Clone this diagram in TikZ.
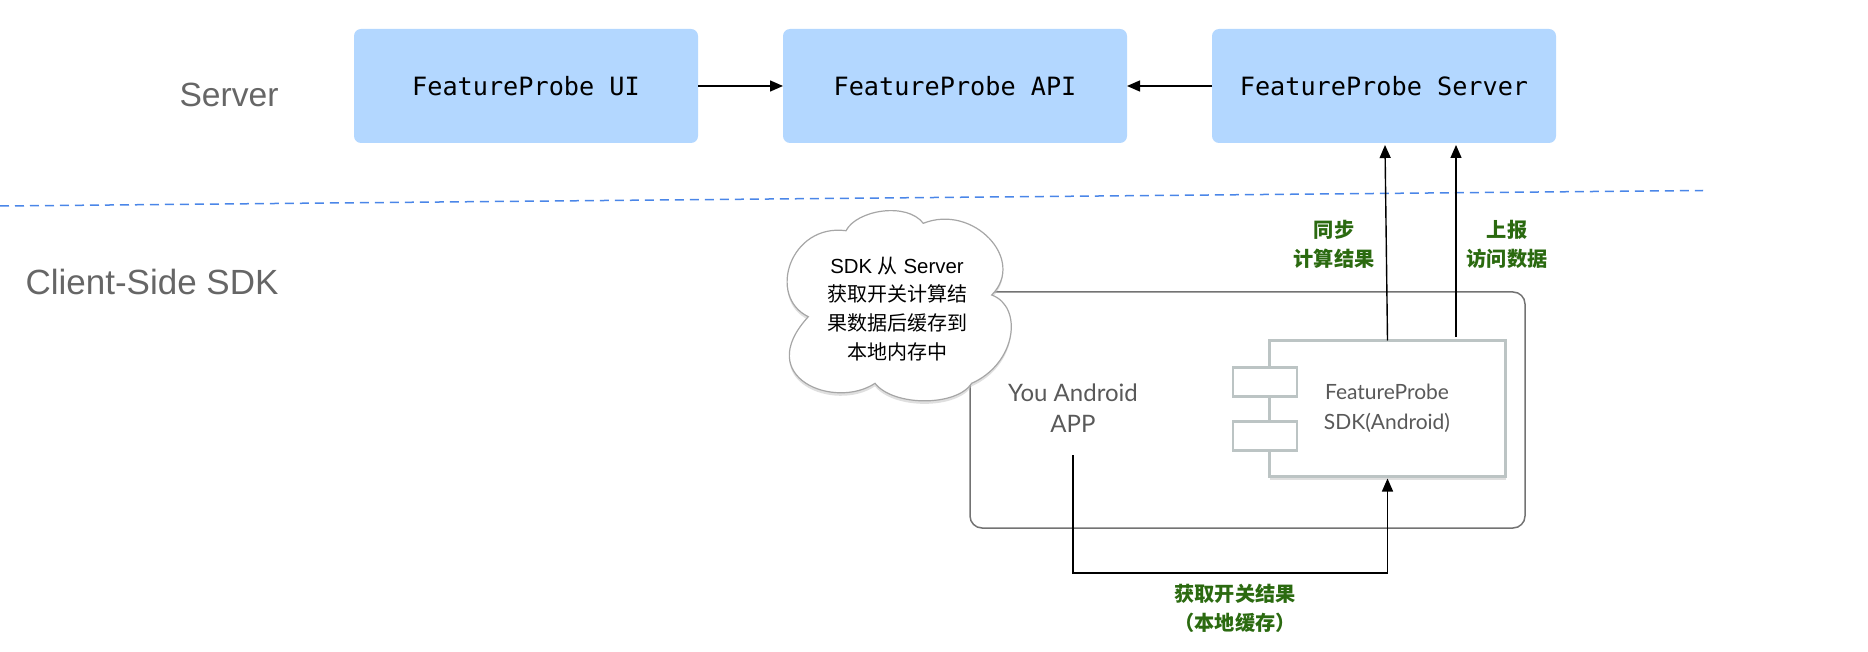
\documentclass[tikz,border=0pt]{standalone}
\usepackage{fontspec}
\setmainfont{Liberation Sans}
\newfontfamily\cjk{Noto Sans CJK SC}
\newfontfamily\menlo{DejaVu Sans Mono}
\newfontfamily\avenir{Lato}
\usetikzlibrary{arrows.meta, positioning, shadows}
\definecolor{boxblue}{HTML}{B3D7FF}
\definecolor{notegreen}{HTML}{2B6A10}
\definecolor{sdkgrey}{HTML}{BCC4C4}
\definecolor{linkblue}{HTML}{4A86E8}

\begin{document}
\begin{tikzpicture}[x=0.5pt, y=-0.5pt,
  svcbox/.style={rectangle, rounded corners=3.5pt, fill=boxblue, minimum width=172pt, minimum height=57pt, inner sep=0pt, outer sep=0pt, font=\menlo\fontsize{12.6}{15}\selectfont},
  sidetext/.style={text=black!60, font=\fontsize{16.8}{20}\selectfont},
  appbox/.style={rectangle, rounded corners=6pt, draw=black!55, line width=0.75pt, minimum width=277.5pt, minimum height=118pt},
  sdkbox/.style={rectangle, draw=sdkgrey, fill=white, line width=1.3pt, minimum width=118pt, minimum height=68pt, outer sep=0pt, drop shadow={shadow xshift=0pt, shadow yshift=-1.6pt, fill=black!25, opacity=0.5}},
  portbox/.style={rectangle, draw=sdkgrey, fill=white, line width=1.3pt, minimum width=32pt, minimum height=14.5pt, outer sep=0pt},
  greytext/.style={text=black!65, align=center, font=\avenir\fontsize{12}{15.6}\selectfont},
  greentext/.style={text=notegreen, align=center, font=\cjk\bfseries\fontsize{10.1}{14.5}\selectfont},
  arrowline/.style={-{Triangle[length=6.5pt, width=5.5pt]}, line width=0.7pt, black}]
\useasboundingbox (0,0) rectangle (1868,652);

\node (ui) [svcbox] at (526,86) {FeatureProbe UI};
\node (api) [svcbox, right=42.5pt of ui] {FeatureProbe API};
\node (server) [svcbox, right=42.5pt of api] {FeatureProbe Server};
\draw [arrowline] (ui) -- (api);
\draw [arrowline] (server) -- (api);

\node (serverlabel) [sidetext] at (229,95) {Server};
\node (clientlabel) [sidetext, font=\fontsize{17.5}{20}\selectfont] at (152,282) {Client-Side SDK};
\draw [linkblue, line width=0.75pt, dash pattern=on 4.5pt off 3pt] (0,206) coordinate (lineleft) -- (1703,190.5) coordinate (lineright);

\node (frame) [appbox] at (1247.5,410) {};
\node (sdk) [sdkbox] at (1387.5,408.5) {};
\node (port1) [portbox] at (1265,382) {};
\node (port2) [portbox] at (1265,436) {};
\node (sdktext) [greytext, font=\avenir\fontsize{10.5}{15}\selectfont] at (1387,408) {FeatureProbe\\SDK(Android)};
\node (app) [greytext, inner sep=0pt] at (1073,408) {You Android\\APP};

\coordinate (syncend) at (1385,145);
\coordinate (reportstart) at (1456,337);
\draw [arrowline] (sdk.north) -- (syncend);
\draw [arrowline] (reportstart) -- (reportstart |- syncend);
\node (synctext) [greentext] at (1334,244) {同步\\计算结果};
\node (reporttext) [greentext] at (1507,244) {上报\\访问数据};

\coordinate (appout) at (1073,455);
\coordinate (corner) at (1073,573);
\draw [arrowline, shorten >=1pt] (appout) -- (corner) -| (sdk.south);
\node (fetchtext) [greentext] at (1235,608.5) {获取开关结果\\（本地缓存）};

\draw [draw=black!35, fill=white, line width=0.6pt, drop shadow={shadow xshift=0pt, shadow yshift=-1.5pt, fill=black!25, opacity=0.5}]
  (846,230.7) .. controls (856.7,210) and (906.7,201.7) .. (923.3,223.3)
  .. controls (973.3,203.3) and (1026.7,260) .. (991.7,295)
  .. controls (1023.3,306.7) and (1016.7,363.3) .. (971.7,383.3)
  .. controls (956.7,406.7) and (893.3,406.7) .. (875,383.3)
  .. controls (835,410) and (752,378) .. (808.3,316.7)
  .. controls (766.7,296.7) and (790,223.3) .. (846,230.7) -- cycle;
\node (cloudnote) [align=center, font=\fontsize{10.2}{14.4}\selectfont] at (897,309) {SDK {\cjk\fontsize{10}{14.4}\selectfont 从} Server\\{\cjk\fontsize{10}{14.4}\selectfont 获取开关计算结}\\{\cjk\fontsize{10}{14.4}\selectfont 果数据后缓存到}\\{\cjk\fontsize{10}{14.4}\selectfont 本地内存中}};
\end{tikzpicture}
\end{document}
